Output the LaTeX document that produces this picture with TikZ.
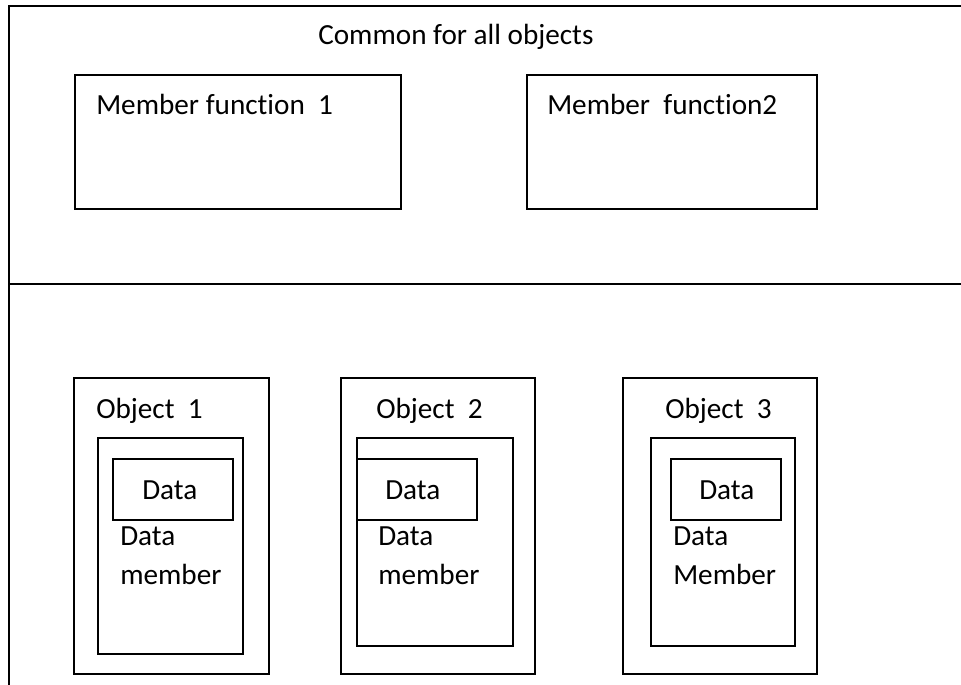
\documentclass[tikz,border=0pt]{standalone}
\usepackage{fontspec}
\setmainfont{Carlito}[Ligatures=NoCommon]
\usetikzlibrary{fit}
\begin{document}
\begin{tikzpicture}[x=0.75pt, y=-0.75pt,
  box/.style={draw=black, line width=1.2pt, inner sep=0pt},
  frame/.style={draw=black, line width=1.5pt},
  lbl/.style={anchor=base west, inner sep=0pt, font=\fontsize{21.9}{26}\selectfont}]
\useasboundingbox (0,0) rectangle (961,685);
% outer frame
\coordinate (fbl) at (9,686);
\coordinate (ftl) at (9,6);
\coordinate (ftr) at (962,6);
\coordinate (sl) at (9,284);
\coordinate (sr) at (962,284);
\draw[frame] (fbl) -- (ftl) -- (ftr);
\draw[frame, line width=2pt] (sl) -- (sr);
\node[lbl] (common) at (318,45) {Common for all objects};
% member functions
\node[box, fit={(75,75) (401,209)}] (mf1) {};
\node[box, fit={(527,75) (817,209)}] (mf2) {};
\node[lbl] (mf1t) at (96,114) {Member function\ \ 1};
\node[lbl] (mf2t) at (547,114) {Member\ \ function2};
% object 1
\node[box, fit={(74,378) (269,674)}] (o1) {};
\node[box, fit={(98,438) (243,654)}] (o1i) {};
\node[box, fit={(113,459) (233,520)}] (o1d) {};
\node[lbl] (o1t) at (96,418) {Object\ \ 1};
\node[lbl] (o1dt) at (142,499) {Data};
\node[lbl] (o1m1) at (120,545) {Data};
\node[lbl] (o1m2) at (120,584) {member};
% object 2
\node[box, fit={(341,378) (535,674)}] (o2) {};
\node[box, fit={(357,438) (513,646)}] (o2i) {};
\node[box, fit={(357,459) (477,520)}] (o2d) {};
\node[lbl] (o2t) at (376,418) {Object\ \ 2};
\node[lbl] (o2dt) at (385,499) {Data};
\node[lbl] (o2m1) at (378,545) {Data};
\node[lbl] (o2m2) at (378,584) {member};
% object 3
\node[box, fit={(623,378) (817,674)}] (o3) {};
\node[box, fit={(651,438) (795,646)}] (o3i) {};
\node[box, fit={(671,459) (781,520)}] (o3d) {};
\node[lbl] (o3t) at (665,418) {Object\ \ 3};
\node[lbl] (o3dt) at (699,499) {Data};
\node[lbl] (o3m1) at (673,545) {Data};
\node[lbl] (o3m2) at (673,584) {Member};
\end{tikzpicture}
\end{document}
